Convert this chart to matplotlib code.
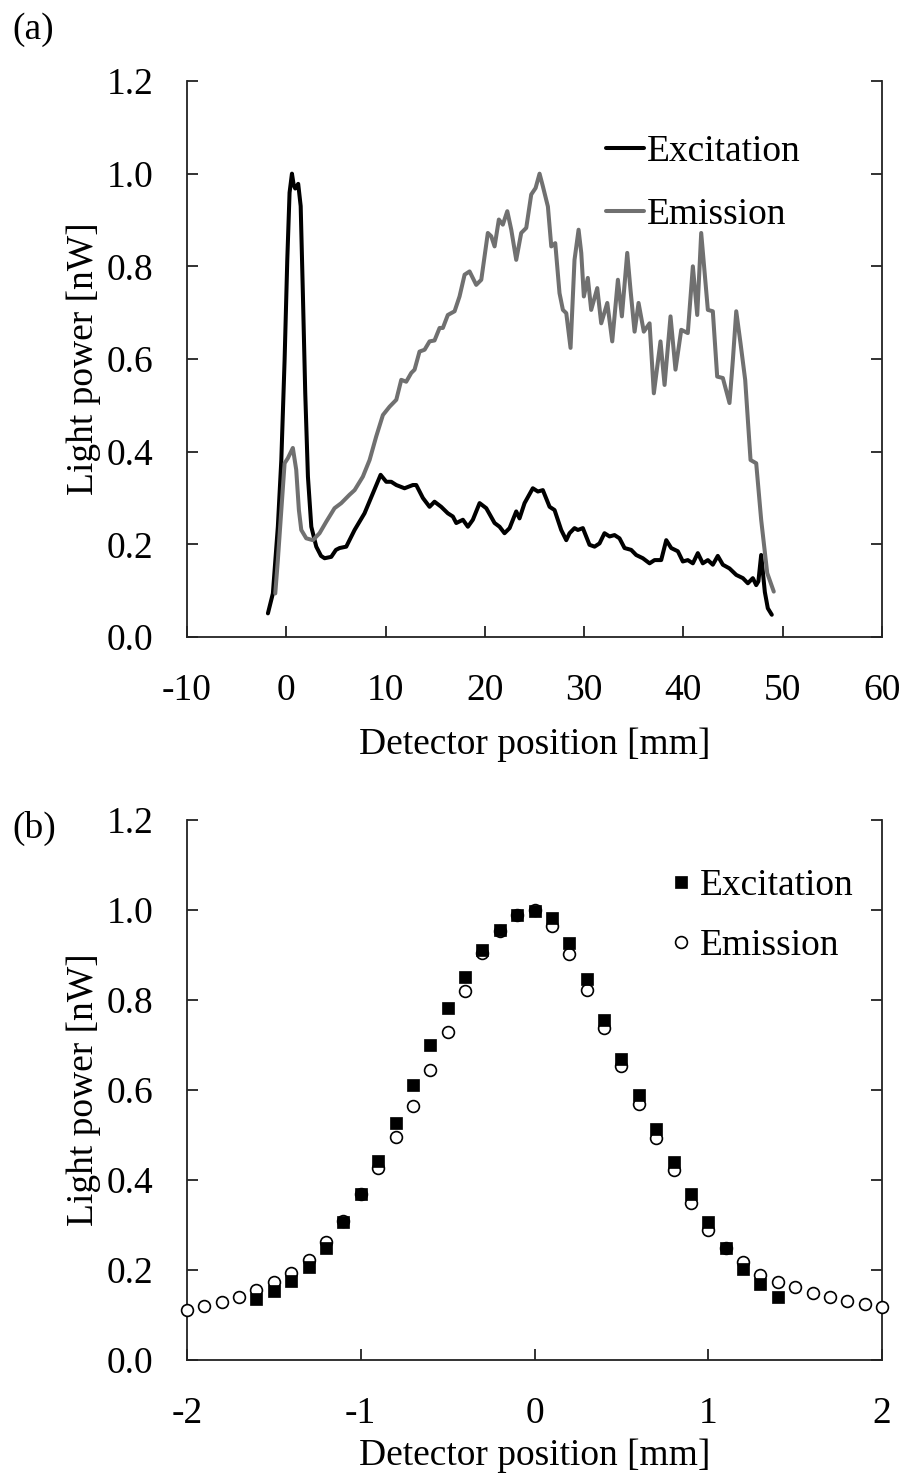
import matplotlib
matplotlib.use("Agg")
import matplotlib.pyplot as plt

plt.rcParams['font.family'] = ['Liberation Serif', 'DejaVu Serif']
plt.rcParams['font.size'] = 27

# ---- panel (a): scan along the detector ----
exc_scan_x = [-1.85, -1.35, -0.85, -0.5, -0.17, 0.1, 0.33, 0.57, 0.75, 0.9, 1.2, 1.45, 1.67,
              1.91, 2.18, 2.52, 3.02, 3.5, 3.86, 4.53, 5.0, 5.37, 6.04, 6.88, 7.88, 8.72,
              9.5, 10.07, 10.57, 11.08, 11.91, 12.75, 13.09, 13.76, 14.43, 14.93, 15.6,
              16.27, 16.78, 17.12, 17.79, 18.29, 18.79, 19.47, 20.14, 20.98, 21.48, 21.98,
              22.49, 23.16, 23.49, 24.0, 24.83, 25.34, 25.84, 26.52, 27.02, 27.69, 28.2,
              28.53, 29.03, 29.37, 29.87, 30.54, 31.05, 31.55, 32.05, 32.56, 33.06, 33.56,
              34.07, 34.74, 35.24, 35.91, 36.59, 37.09, 37.76, 38.27, 38.77, 39.44, 39.94,
              40.44, 40.95, 41.45, 41.95, 42.46, 42.96, 43.46, 43.97, 44.64, 45.32, 45.99,
              46.49, 46.99, 47.33, 47.55, 47.83, 48.2, 48.5, 48.9]
exc_scan_y = [0.051, 0.094, 0.238, 0.382, 0.598, 0.814, 0.959, 1.0, 0.975, 0.968, 0.978, 0.93,
              0.742, 0.526, 0.346, 0.238, 0.195, 0.175, 0.170, 0.173, 0.188, 0.192, 0.195,
              0.231, 0.267, 0.310, 0.350, 0.335, 0.335, 0.328, 0.321, 0.328, 0.328, 0.300,
              0.281, 0.292, 0.281, 0.267, 0.260, 0.246, 0.253, 0.238, 0.253, 0.289, 0.278,
              0.246, 0.238, 0.224, 0.235, 0.271, 0.256, 0.289, 0.321, 0.314, 0.317, 0.281,
              0.274, 0.231, 0.209, 0.224, 0.235, 0.231, 0.235, 0.199, 0.195, 0.202, 0.224,
              0.217, 0.220, 0.213, 0.192, 0.188, 0.177, 0.170, 0.159, 0.166, 0.166, 0.209,
              0.192, 0.185, 0.163, 0.166, 0.159, 0.181, 0.159, 0.166, 0.156, 0.175, 0.156,
              0.148, 0.134, 0.127, 0.116, 0.127, 0.112, 0.12, 0.177, 0.097, 0.062, 0.048]

emi_scan_x = [-1.11, -0.85, -0.5, -0.17, 0.16, 0.66, 1.0, 1.27, 1.51, 2.01, 2.68, 3.35, 4.03,
              4.86, 5.54, 6.37, 6.88, 7.71, 8.39, 9.06, 9.73, 10.4, 11.08, 11.58, 12.08,
              12.59, 12.92, 13.42, 13.93, 14.43, 14.93, 15.44, 15.77, 16.27, 16.95, 17.45,
              17.96, 18.46, 19.13, 19.64, 20.3, 20.64, 20.98, 21.41, 21.81, 22.26, 22.66,
              23.16, 23.66, 24.17, 24.67, 25.11, 25.51, 25.84, 26.35, 26.69, 27.09, 27.52,
              27.86, 28.2, 28.63, 29.03, 29.44, 29.71, 29.97, 30.37, 30.71, 31.32, 31.72,
              32.33, 32.83, 33.4, 33.8, 34.34, 34.67, 35.08, 35.48, 36.01, 36.59, 37.02,
              37.69, 38.1, 38.7, 39.2, 39.78, 40.44, 40.95, 41.39, 41.79, 42.46, 42.96,
              43.4, 43.97, 44.64, 44.98, 45.32, 45.75, 46.22, 46.76, 47.33, 47.83, 48.44,
              49.1]
emi_scan_y = [0.094, 0.166, 0.274, 0.375, 0.386, 0.408, 0.361, 0.274, 0.231, 0.213, 0.209,
              0.224, 0.249, 0.278, 0.289, 0.307, 0.317, 0.346, 0.382, 0.433, 0.479, 0.497,
              0.512, 0.555, 0.551, 0.570, 0.577, 0.616, 0.620, 0.638, 0.640, 0.667, 0.667,
              0.695, 0.703, 0.735, 0.782, 0.789, 0.760, 0.771, 0.872, 0.865, 0.843, 0.901,
              0.890, 0.919, 0.879, 0.814, 0.872, 0.883, 0.955, 0.969, 1.0, 0.973, 0.929,
              0.843, 0.850, 0.742, 0.706, 0.699, 0.624, 0.814, 0.879, 0.829, 0.735, 0.775,
              0.706, 0.753, 0.677, 0.721, 0.638, 0.771, 0.692, 0.829, 0.749, 0.659, 0.721,
              0.659, 0.677, 0.526, 0.638, 0.544, 0.692, 0.577, 0.663, 0.656, 0.8, 0.695,
              0.872, 0.706, 0.703, 0.562, 0.559, 0.505, 0.598, 0.703, 0.634, 0.555, 0.382,
              0.375, 0.253, 0.138, 0.098]

# ---- panel (b): profile around the source ----
exc_prof_x = [-1.6, -1.5, -1.4, -1.3, -1.2, -1.1, -1.0, -0.9, -0.8, -0.7, -0.6, -0.5, -0.4,
              -0.3, -0.2, -0.1, 0.0, 0.1, 0.2, 0.3, 0.4, 0.5, 0.6, 0.7, 0.8, 0.9, 1.0, 1.1,
              1.2, 1.3, 1.4]
exc_prof_y = [0.136, 0.153, 0.176, 0.207, 0.248, 0.306, 0.368, 0.443, 0.526, 0.611, 0.700,
              0.783, 0.852, 0.911, 0.955, 0.990, 0.998, 0.982, 0.927, 0.846, 0.755, 0.669,
              0.590, 0.513, 0.441, 0.370, 0.307, 0.250, 0.203, 0.170, 0.141]

emi_prof_x = [-2.0, -1.9, -1.8, -1.7, -1.6, -1.5, -1.4, -1.3, -1.2, -1.1, -1.0, -0.9, -0.8,
              -0.7, -0.6, -0.5, -0.4, -0.3, -0.2, -0.1, 0.0, 0.1, 0.2, 0.3, 0.4, 0.5, 0.6,
              0.7, 0.8, 0.9, 1.0, 1.1, 1.2, 1.3, 1.4, 1.5, 1.6, 1.7, 1.8, 1.9, 2.0]
emi_prof_y = [0.111, 0.121, 0.130, 0.139, 0.155, 0.174, 0.194, 0.222, 0.263, 0.308, 0.370,
              0.426, 0.495, 0.564, 0.644, 0.728, 0.821, 0.905, 0.953, 0.990, 1.0, 0.965,
              0.902, 0.822, 0.737, 0.653, 0.570, 0.493, 0.422, 0.350, 0.290, 0.249, 0.217,
              0.189, 0.174, 0.162, 0.148, 0.141, 0.132, 0.124, 0.117]

y_ticks = [0.0, 0.2, 0.4, 0.6, 0.8, 1.0, 1.2]
y_ticklabels = ['0.0', '0.2', '0.4', '0.6', '0.8', '1.0', '1.2']
xa_ticks = [-10, 0, 10, 20, 30, 40, 50, 60]
xb_ticks = [-2, -1, 0, 1, 2]

EMI_GRAY = '#707070'
W, H = 906, 1482

fig = plt.figure(figsize=(W / 100, H / 100), dpi=100)
ax1 = fig.add_axes([187 / W, 1 - 637 / H, 695 / W, 556 / H])
ax2 = fig.add_axes([187 / W, 1 - 1360 / H, 695 / W, 540 / H])


def style_axes(ax, xlabelpad):
    ax.spines['top'].set_visible(False)
    for s in ('left', 'right', 'bottom'):
        ax.spines[s].set_linewidth(1.3)
        ax.spines[s].set_color('#222222')
    ax.tick_params(axis='y', which='both', direction='in', left=True, right=True,
                   labelright=False, length=8, width=1.3, color='#222222', pad=24)
    ax.tick_params(axis='x', which='both', direction='in', top=False, length=8,
                   width=1.3, color='#222222', pad=26)
    ax.set_ylim(0, 1.2)
    ax.set_yticks(y_ticks)
    ax.set_yticklabels(y_ticklabels)
    ax.set_ylabel('Light power [nW]', labelpad=4)
    ax.set_xlabel('Detector position [mm]', labelpad=xlabelpad)


# panel (a)
ax1.plot(exc_scan_x, exc_scan_y, color='black', lw=2.9, solid_joinstyle='round',
         solid_capstyle='round', label='Excitation')
ax1.plot(emi_scan_x, emi_scan_y, color=EMI_GRAY, lw=2.9, solid_joinstyle='round',
         solid_capstyle='round', label='Emission')
ax1.set_xlim(-10, 60)
ax1.set_xticks(xa_ticks)
ax1.set_xticklabels([str(t) for t in xa_ticks])
style_axes(ax1, 14)
ax1.legend(loc='upper left', bbox_to_anchor=(0.603, 0.903), frameon=False,
           handlelength=1.0, handletextpad=0.08, labelspacing=0.75, borderpad=0,
           borderaxespad=0)

# panel (b)
ax2.plot(emi_prof_x, emi_prof_y, linestyle='none', marker='o', markersize=8.5,
         markerfacecolor='white', markeredgecolor='black', markeredgewidth=1.2,
         clip_on=False, zorder=3, label='Emission')
ax2.plot(exc_prof_x, exc_prof_y, linestyle='none', marker='s', markersize=9,
         markerfacecolor='black', markeredgecolor='black', markeredgewidth=0.5,
         clip_on=False, zorder=4, label='Excitation')
ax2.set_xlim(-2, 2)
ax2.set_xticks(xb_ticks)
ax2.set_xticklabels([str(t) for t in xb_ticks])
style_axes(ax2, 6)
h, l = ax2.get_legend_handles_labels()
ax2.legend([h[1], h[0]], [l[1], l[0]], loc='upper left', bbox_to_anchor=(0.695, 0.91),
           frameon=False, handlelength=0.6, handletextpad=0.2, labelspacing=0.67,
           borderpad=0, borderaxespad=0, numpoints=1)

fig.text(12 / W, 1 - 30 / H, '(a)', ha='left', va='center')
fig.text(12 / W, 1 - 828 / H, '(b)', ha='left', va='center')

fig.savefig('out.png', dpi=100)
